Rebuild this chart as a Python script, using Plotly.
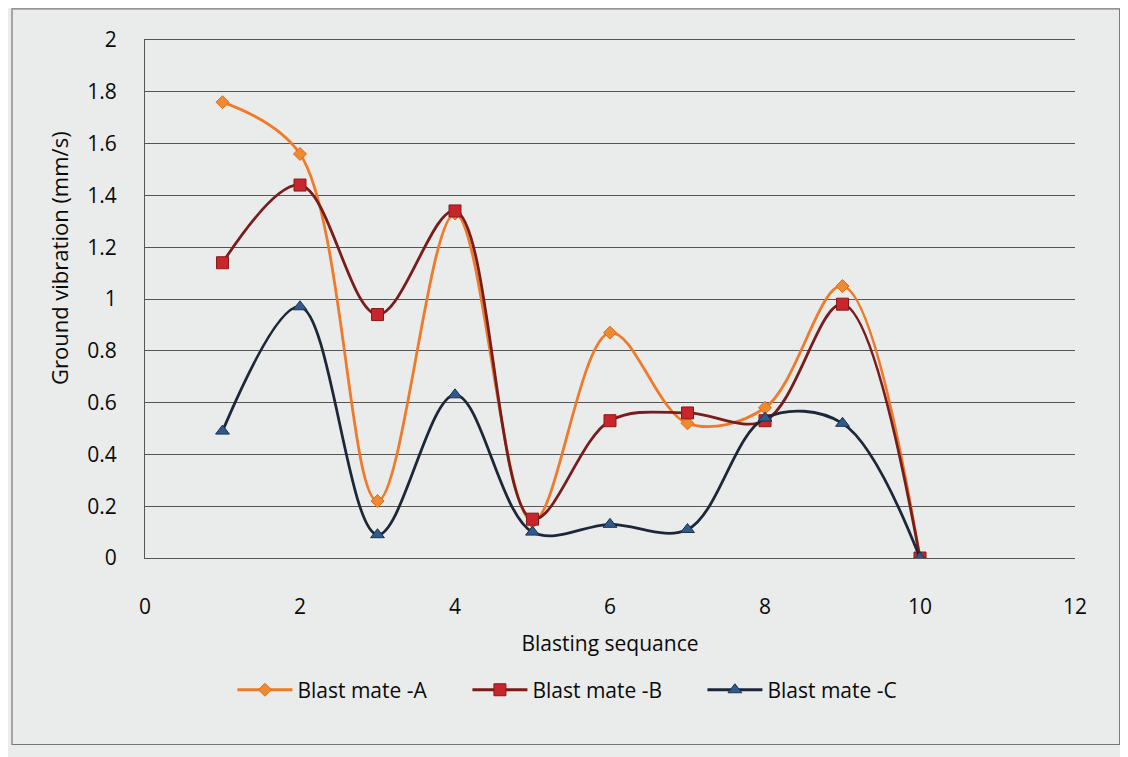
import plotly.graph_objects as go

sequence = [1, 2, 3, 4, 5, 6, 7, 8, 9, 10]
blast_a = [1.76, 1.56, 0.22, 1.33, 0.14, 0.87, 0.52, 0.58, 1.05, 0.0]
blast_b = [1.14, 1.44, 0.94, 1.34, 0.15, 0.53, 0.56, 0.53, 0.98, 0.0]
blast_c = [0.49, 0.97, 0.09, 0.63, 0.10, 0.13, 0.11, 0.54, 0.52, 0.0]

x_ticks = [0, 2, 4, 6, 8, 10, 12]
y_ticks = [0, 0.2, 0.4, 0.6, 0.8, 1, 1.2, 1.4, 1.6, 1.8, 2]

font_family = "'Open Sans', Lato, sans-serif"
bg = "#eaeceb"

fig = go.Figure()
fig.add_trace(go.Scatter(
    x=sequence, y=blast_a, name="Blast mate -A", mode="lines+markers",
    line=dict(color="#ee7a2a", width=2.8, shape="spline", smoothing=1),
    marker=dict(symbol="diamond", size=10, color="#f08a30", line=dict(color="#e06a20", width=1)),
))
fig.add_trace(go.Scatter(
    x=sequence, y=blast_b, name="Blast mate -B", mode="lines+markers",
    line=dict(color="#7a1c1c", width=2.8, shape="spline", smoothing=1),
    marker=dict(symbol="square", size=12, color="#c8262c", line=dict(color="#8a1a1a", width=1)),
))
fig.add_trace(go.Scatter(
    x=sequence, y=blast_c, name="Blast mate -C", mode="lines+markers",
    line=dict(color="#1c2838", width=2.8, shape="spline", smoothing=1),
    marker=dict(symbol="triangle-up", size=12, color="#2f5a8c", line=dict(color="#1c3050", width=1)),
))

fig.update_layout(
    width=1128, height=757,
    margin=dict(l=137, r=61, t=32, b=207),
    paper_bgcolor=bg, plot_bgcolor=bg,
    font=dict(family=font_family, size=21, color="#0a0a0a"),
    showlegend=True,
    legend=dict(orientation="h", x=0.094, xanchor="left", y=-0.255, yanchor="middle",
                font=dict(size=21), bgcolor="rgba(0,0,0,0)", itemwidth=55,
                entrywidth=165, entrywidthmode="pixels"),
    xaxis=dict(range=[0, 12], tickvals=x_ticks, showgrid=False, zeroline=False,
               showline=True, mirror=True, linecolor="#555", linewidth=1, ticks="",
               ticklabelstandoff=30, automargin=False,
               title=dict(text="Blasting sequance", font=dict(size=21), standoff=17)),
    yaxis=dict(range=[0, 2], tickvals=y_ticks, showgrid=True, gridcolor="#555555", gridwidth=1,
               zeroline=False, showline=True, linecolor="#555", linewidth=1, ticks="",
               ticklabelstandoff=23, automargin=False),
    annotations=[dict(text="Ground vibration (mm/s)", textangle=-90, showarrow=False,
                      xref="paper", yref="paper", x=-0.0925, y=0.579,
                      xanchor="center", yanchor="middle", font=dict(size=22))],
    shapes=[dict(type="rect", xref="paper", yref="paper", x0=-0.143, x1=1.048, y0=-0.36, y1=1.06,
                 line=dict(color="#777", width=1.2), fillcolor="rgba(0,0,0,0)", layer="below")],
)

fig.write_html("out.html")
